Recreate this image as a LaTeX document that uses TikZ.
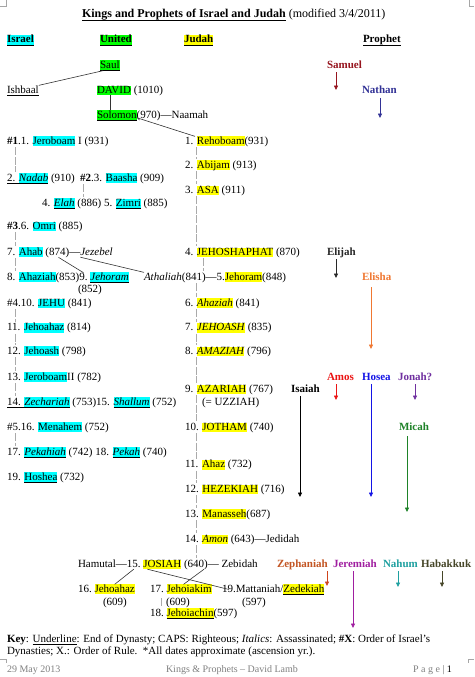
\documentclass[tikz,border=0pt]{standalone}
\usepackage{fontspec}
\setmainfont{Liberation Serif}
\usetikzlibrary{arrows.meta}
\definecolor{cyanH}{RGB}{0,255,255}
\definecolor{greenH}{RGB}{0,255,0}
\definecolor{yelH}{RGB}{255,255,0}
\definecolor{grayL}{RGB}{170,170,170}
\definecolor{footG}{RGB}{128,128,128}
\definecolor{samC}{RGB}{150,20,30}
\definecolor{natC}{RGB}{50,50,150}
\definecolor{elijC}{RGB}{40,40,40}
\definecolor{elisC}{RGB}{240,120,50}
\definecolor{amosC}{RGB}{235,20,20}
\definecolor{hosC}{RGB}{20,20,230}
\definecolor{jonC}{RGB}{112,48,160}
\definecolor{isaC}{RGB}{0,0,0}
\definecolor{micC}{RGB}{30,130,40}
\definecolor{zepC}{RGB}{195,85,35}
\definecolor{jerC}{RGB}{160,30,160}
\definecolor{nahC}{RGB}{30,160,160}
\definecolor{habC}{RGB}{70,70,40}
\newcommand{\mystrut}{\rule[-2.2pt]{0pt}{9pt}}
\newcommand{\hlbox}[2]{{\setlength{\fboxsep}{0pt}\colorbox{#1}{\mystrut#2}}}
\newsavebox{\ulbox}
\newcommand{\uln}[1]{\sbox{\ulbox}{#1}\usebox{\ulbox}\llap{\rule[-2.7pt]{\wd\ulbox}{0.5pt}}}
\begin{document}
\begin{tikzpicture}[x=1pt,y=-1pt,font=\fontsize{11}{13}\selectfont,
  txt/.style={anchor=base west,inner sep=0pt,outer sep=0pt,execute at begin node=\mystrut},
  prtxt/.style={txt,font=\fontsize{11}{13}\selectfont\bfseries},
  gline/.style={draw=grayL,line width=0.6pt,shorten <=1pt,shorten >=1pt,dash pattern=on 8pt off 1.5pt},
  kline/.style={draw=black!80,line width=0.6pt},
  parrow/.style={-{Triangle[length=4.5pt,width=4pt]},line width=0.8pt,shorten <=2pt},
  cropmark/.style={draw=black!35,line width=0.4pt},
  foottxt/.style={txt,font=\fontsize{10}{12}\selectfont,text=footG}]
\fill[white] (0,0) rectangle (474,677);
\useasboundingbox (0,0) rectangle (474,677);
% crop marks
\draw[cropmark] (0,6) -- (6,6) -- (6,0);
\draw[cropmark] (474,6) -- (469,6) -- (469,0);
\draw[cropmark] (0,659) -- (6,659) -- (6,663);
\draw[cropmark] (474,659) -- (468,659) -- (468,663);
% column coordinates
\coordinate (cI) at (15,0);
\coordinate (cB) at (83,0);
\coordinate (cJ) at (196,0);
\coordinate (cJb) at (203,0);
\coordinate (c17) at (161,0);
% title and headers
\node[txt,font=\fontsize{12}{14}\selectfont] (title) at (82,18) {\textbf{\uln{Kings and Prophets of Israel and Judah}} (modified 3/4/2011)};
\node[txt] (hisr) at (7,43) {\textbf{\uln{\hlbox{cyanH}{Israel}}}};
\node[txt] (huni) at (100,43) {\textbf{\uln{\hlbox{greenH}{United}}}};
\node[txt] (hjud) at (184,43) {\textbf{\uln{\hlbox{yelH}{Judah}}}};
\node[txt] (hpro) at (363,43) {\textbf{\uln{Prophet}}};
% united kingdom
\node[txt] (saul) at (100,68) {\uln{\hlbox{greenH}{Saul}}};
\node[txt] (ish) at (7,93) {\uln{Ishbaal}};
\node[txt] (david) at (97,93) {\hlbox{greenH}{DAVID}};
\node[txt] (davidx) at ([xshift=2.75pt]david.base east) {(1010)};
\node[txt] (sol) at (97,118) {\uln{\hlbox{greenH}{Solomon}}};
\node[txt] (solx) at (sol.base east) {(970)—Naamah};
\draw[kline] ([xshift=3pt]saul.south west) -- (ish.north east);
\draw[kline] ([xshift=13pt]david.south west) -- ([xshift=13pt]sol.north west);
% Israel
\node[txt] (r1) at (7,144) {\textbf{\#1}.1. \hlbox{cyanH}{Jeroboam} I (931)};
\node[txt] (r2) at (7,181) {\uln{2. \hlbox{cyanH}{\textit{Nadab}}} (910)};
\node[txt] (r3) at (80,181) {\textbf{\#2}.3. \hlbox{cyanH}{Baasha} (909)};
\node[txt] (r4) at (42,206) {4. \uln{\hlbox{cyanH}{\textit{Elah}}} (886) 5. \uln{\hlbox{cyanH}{Zimri}} (885)};
\node[txt] (r5) at (7,229) {\textbf{\#3}.6. \hlbox{cyanH}{Omri} (885)};
\node[txt] (r6) at (7,255) {7. \hlbox{cyanH}{Ahab}};
\node[txt] (a874) at ([xshift=2.75pt]r6.base east) {(874)—};
\node[txt] (jez) at (a874.base east) {\textit{Jezebel}};
\node[txt] (r7) at (7,280) {8. \hlbox{cyanH}{Ahaziah}(853)};
\node[txt] (n9) at (r7.base east) {9.};
\node[txt] (jor9) at ([xshift=2.75pt]n9.base east) {\uln{\hlbox{cyanH}{\textit{Jehoram}}}};
\node[txt] (d852) at (78,292) {(852)};
\node[txt] (r8) at (7,306) {\#4.10. \hlbox{cyanH}{JEHU} (841)};
\node[txt] (r9) at (7,330.5) {11. \hlbox{cyanH}{Jehoahaz} (814)};
\node[txt] (r10) at (7,354) {12. \hlbox{cyanH}{Jehoash} (798)};
\node[txt] (r11) at (7,380) {13. \hlbox{cyanH}{Jeroboam}II (782)};
\node[txt] (r12) at (7,405) {\uln{14. \hlbox{cyanH}{\textit{Zechariah}}} (753)15. \uln{\hlbox{cyanH}{\textit{Shallum}}} (752)};
\node[txt] (r13) at (7,430) {\#5.16. \hlbox{cyanH}{Menahem} (752)};
\node[txt] (r14) at (7,455) {17. \uln{\hlbox{cyanH}{\textit{Pekahiah}}} (742) 18. \uln{\hlbox{cyanH}{\textit{Pekah}}} (740)};
\node[txt] (r15) at (7,480) {19. \uln{\hlbox{cyanH}{Hoshea}} (732)};
\draw[gline] (r1.south -| cI) -- (r2.north -| cI);
\draw[gline] (r3.south -| cB) -- (r4.north -| cB);
\draw[gline] (r5.south -| cI) -- (r6.north -| cI);
\draw[gline] (r6.south -| cI) -- (r7.north -| cI);
\draw[gline] (r8.south -| cI) -- (r9.north -| cI);
\draw[gline] (r9.south -| cI) -- (r10.north -| cI);
\draw[gline] (r10.south -| cI) -- (r11.north -| cI);
\draw[gline] (r11.south -| cI) -- (r12.north -| cI);
\draw[gline] (r13.south -| cI) -- (r14.north -| cI);
% Judah
\node[txt] (j1) at (185,144) {1. \hlbox{yelH}{Rehoboam}(931)};
\node[txt] (j2) at (185,168) {2. \hlbox{yelH}{Abijam} (913)};
\node[txt] (j3) at (185,193) {3. \hlbox{yelH}{ASA} (911)};
\node[txt] (j4) at (185,255) {4. \hlbox{yelH}{JEHOSHAPHAT} (870)};
\node[txt] (ath) at (144,280) {\textit{Athaliah}(841)—5.\hlbox{yelH}{Jehoram}(848)};
\node[txt] (j6) at (185,306) {6. \hlbox{yelH}{\textit{Ahaziah}} (841)};
\node[txt] (j7) at (185,330.5) {7. \hlbox{yelH}{\textit{JEHOASH}} (835)};
\node[txt] (j8) at (185,354) {8. \hlbox{yelH}{\textit{AMAZIAH}} (796)};
\node[txt] (j9) at (185,392) {9. \hlbox{yelH}{AZARIAH} (767)};
\node[txt] (uzz) at (202,405) {(= UZZIAH)};
\node[txt] (j10) at (185,430) {10. \hlbox{yelH}{JOTHAM} (740)};
\node[txt] (j11) at (185,467.5) {11. \hlbox{yelH}{Ahaz} (732)};
\node[txt] (j12) at (185,492) {12. \hlbox{yelH}{HEZEKIAH} (716)};
\node[txt] (j13) at (185,517) {13. \hlbox{yelH}{Manasseh}(687)};
\node[txt] (j14) at (185,542) {14. \hlbox{yelH}{\textit{Amon}} (643)—Jedidah};
\draw[kline] ([yshift=3pt]sol.south east) -- ([xshift=10pt]j1.north west);
\draw[kline] ([xshift=13pt]a874.south west) -- (n9.north);
\draw[kline] (jez.south west) -- (ath.north west);
\draw[gline] (j1.south -| cJ) -- (j2.north -| cJ);
\draw[gline] (j2.south -| cJ) -- (j3.north -| cJ);
\draw[gline] (j3.south -| cJ) -- (j4.north -| cJ);
\draw[gline] (j4.south -| cJb) -- (ath.north -| cJb);
\draw[gline] (ath.south -| cJ) -- (j6.north -| cJ);
\draw[gline] (j6.south -| cJ) -- (j7.north -| cJ);
\draw[gline] (j7.south -| cJ) -- (j8.north -| cJ);
\draw[gline] (j8.south -| cJ) -- (j9.north -| cJ);
\draw[gline] (j9.south -| cJ) -- (j10.north -| cJ);
\draw[gline] (j10.south -| cJ) -- (j11.north -| cJ);
\draw[gline] (j11.south -| cJ) -- (j12.north -| cJ);
\draw[gline] (j12.south -| cJ) -- (j13.north -| cJ);
\draw[gline] (j13.south -| cJ) -- (j14.north -| cJ);
% Josiah and sons
\node[txt] (ham) at (78,567) {Hamutal—};
\node[txt] (n15) at (ham.base east) {15.};
\node[txt] (josiah) at ([xshift=2.75pt]n15.base east) {\hlbox{yelH}{JOSIAH}};
\node[txt] (p640) at ([xshift=2.75pt]josiah.base east) {(640)};
\node[txt] (zeb) at (p640.base east) {— Zebidah};
\node[txt] (n16) at (78,592) {16.};
\node[txt] (jeh16) at ([xshift=2.75pt]n16.base east) {\hlbox{yelH}{Jehoahaz}};
\node[txt] (d609a) at (103,605) {(609)};
\node[txt] (n17) at (150,592) {17.};
\node[txt] (jk) at ([xshift=2.75pt]n17.base east) {\hlbox{yelH}{Jehoiakim}};
\node[txt] (d609b) at (166,605) {(609)};
\node[txt] (n19) at (222,592) {19.};
\node[txt] (mz) at (n19.base east) {Mattaniah/\uln{\hlbox{yelH}{Zedekiah}}};
\node[txt] (d597) at (242,605) {(597)};
\node[txt] (n18) at (150,616) {18.};
\node[txt] (jc) at ([xshift=2.75pt]n18.base east) {\uln{\hlbox{yelH}{Jehoiachin}}(597)};
\draw[gline] (j14.south -| cJ) -- (p640.north -| cJ);
\draw[kline] (n15.south) -- (jeh16.north);
\draw[kline] ([xshift=-4pt]p640.south east) -- ([xshift=17pt]jk.north west);
\draw[kline] ([xshift=4pt]josiah.south west) -- (n19.center);
\draw[gline,shorten <=4pt] (n17.south -| c17) -- (n18.north -| c17);
% prophets
\node[prtxt,text=samC] (sam) at (327,68) {Samuel};
\node[prtxt,text=natC] (nat) at (362,93) {Nathan};
\node[prtxt,text=elijC] (elij) at (327,255) {Elijah};
\node[prtxt,text=elisC] (elis) at (362,280) {Elisha};
\node[prtxt,text=amosC] (amos) at (327,380) {Amos};
\node[prtxt,text=hosC] (hos) at (362,380) {Hosea};
\node[prtxt,text=jonC] (jon) at (398,380) {Jonah?};
\node[prtxt,text=isaC] (isa) at (291,392) {Isaiah};
\node[prtxt,text=micC] (mic) at (399,430) {Micah};
\node[prtxt,text=zepC] (zep) at (277,567) {Zephaniah};
\node[prtxt,text=jerC] (jer) at (333,567) {Jeremiah};
\node[prtxt,text=nahC] (nah) at (383,567) {Nahum};
\node[prtxt,text=habC] (hab) at (421,567) {Habakkuk};
\coordinate (samE) at (336,90);
\coordinate (natE) at (380,118);
\coordinate (elijE) at (336,278);
\coordinate (elisE) at (371,349);
\coordinate (amosE) at (336,400);
\coordinate (hosE) at (371,497);
\coordinate (jonE) at (415,400);
\coordinate (isaE) at (300,497);
\coordinate (micE) at (407,512);
\coordinate (zepE) at (327,586);
\coordinate (jerE) at (353,628);
\coordinate (nahE) at (398,587);
\coordinate (habE) at (442,587);
\draw[parrow,draw=samC] (samE |- sam.south) -- (samE);
\draw[parrow,draw=natC,shorten <=3pt] (natE |- nat.south) -- (natE);
\draw[parrow,draw=elijC] (elijE |- elij.south) -- (elijE);
\draw[parrow,draw=elisC,shorten <=5pt] (elisE |- elis.south) -- (elisE);
\draw[parrow,draw=amosC] (amosE |- amos.south) -- (amosE);
\draw[parrow,draw=hosC] (hosE |- hos.south) -- (hosE);
\draw[parrow,draw=jonC] (jonE |- jon.south) -- (jonE);
\draw[parrow,draw=isaC] (isaE |- isa.south) -- (isaE);
\draw[parrow,draw=micC,shorten <=4pt] (micE |- mic.south) -- (micE);
\draw[parrow,draw=zepC!80!red] (zepE |- zep.south) -- (zepE);
\draw[parrow,draw=jerC] (jerE |- jer.south) -- (jerE);
\draw[parrow,draw=nahC] (nahE |- nah.south) -- (nahE);
\draw[parrow,draw=habC] (habE |- hab.south) -- (habE);
% key and footer
\node[txt] (key1) at (7,642) {\textbf{Key}: \uln{Underline}: End of Dynasty; CAPS: Righteous; \textit{Italics}: Assassinated; \textbf{\#X}: Order of Israel’s};
\node[txt] (key2) at (7,654) {Dynasties; X.: Order of Rule.\ \ *All dates approximate (ascension yr.).};
\node[foottxt] (f1) at (7,672) {29 May 2013};
\node[foottxt] (f2) at (166,672) {Kings \& Prophets – David Lamb};
\node[foottxt] (f3) at (413,672) {P a g e \textcolor{black!60}{|} \textcolor{black}{1}};
\end{tikzpicture}
\end{document}
